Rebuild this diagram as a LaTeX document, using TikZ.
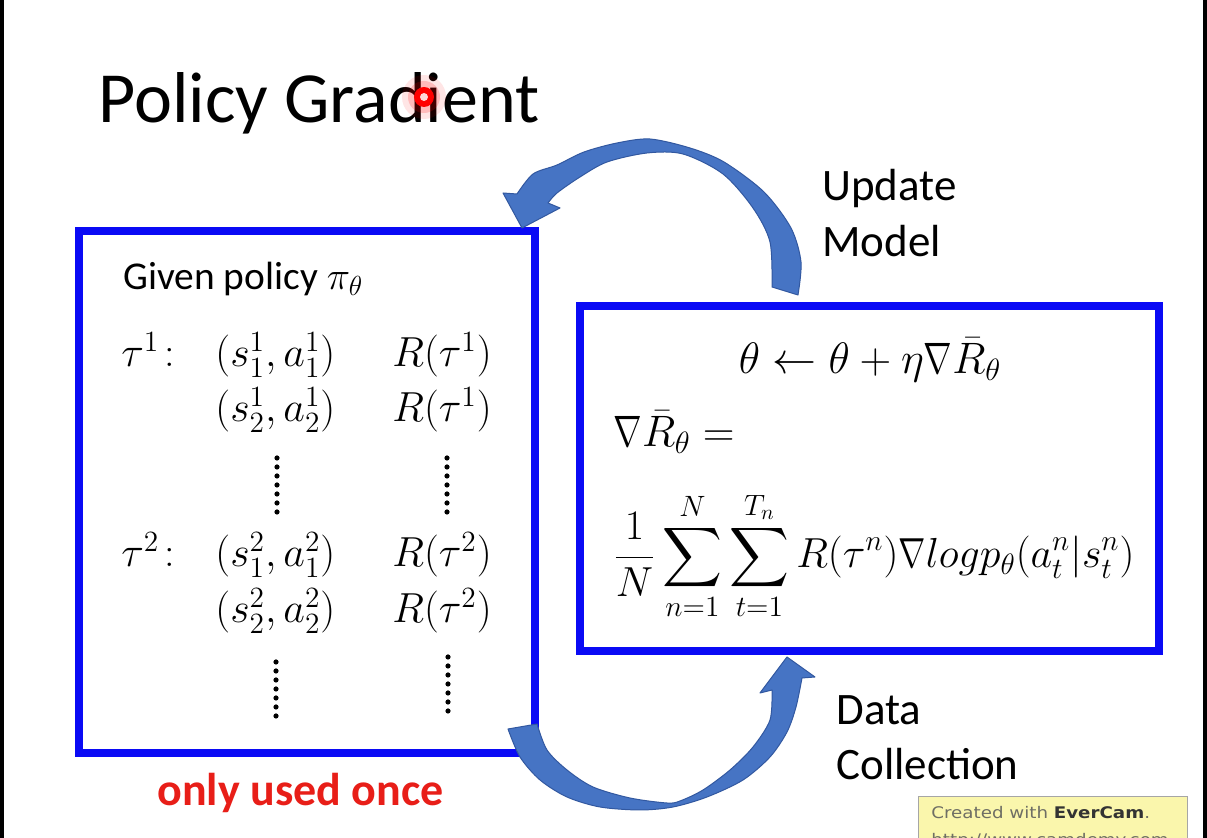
\RequirePackage{fix-cm}
\documentclass[tikz,border=0pt]{standalone}
\usepackage{amsmath}
\usepackage[no-math]{fontspec}
\setmainfont{Carlito}
\newfontfamily\wmfont{DejaVu Sans}[FakeStretch=1.14]
\newcommand{\nablaN}{\mathord{\scalebox{0.78}[1]{$\nabla$}}}
\definecolor{boxblue}{RGB}{10,10,245}
\definecolor{arrowblue}{RGB}{70,116,196}
\definecolor{arrowdark}{RGB}{50,88,160}
\definecolor{onceRed}{RGB}{232,30,24}
\definecolor{wmyellow}{RGB}{250,246,172}
\definecolor{wmgray}{RGB}{110,110,100}
\begin{document}
\begin{tikzpicture}[x=0.5pt,y=-0.5pt,
  bluebox/.style={draw=boxblue, line width=4pt, inner sep=0pt, outer sep=0pt, anchor=north west},
  curvedarrow/.style={fill=arrowblue, draw=arrowdark, line width=0.5pt, line join=round},
  titletext/.style={anchor=base west, inner sep=0pt, font=\fontsize{36}{40}\selectfont},
  sidetext/.style={anchor=base west, inner sep=0pt, font=\fontsize{22.5}{26}\selectfont},
  mathL/.style={anchor=base west, inner sep=0pt, font=\fontsize{21}{25}\selectfont},
  mathR/.style={inner sep=0pt, font=\fontsize{22}{26}\selectfont},
  dotmark/.style={fill=black}
]
\useasboundingbox (0,0) rectangle (1207,838);
\begin{scope}
\clip (0,0) rectangle (1207,838);
\fill[white] (0,0) rectangle (1207,838);
% frame bars of the screenshot
\fill[black] (0,0) rectangle (4,838);
\fill[black] (1203,0) rectangle (1207,838);

% title
\node[titletext] (title) at (98,123) {Policy Gradient};
% cursor highlight
\fill[red, opacity=0.10] (424,97) circle (11pt);
\fill[red, opacity=0.18] (424,97) circle (8pt);
\fill[red] (424,97) circle (5pt);
\fill[white!85!red] (424,97) circle (2pt);

% boxes
\node[bluebox, minimum width=228pt, minimum height=261pt] (policybox) at (79,231) {};
\node[bluebox, minimum width=289.5pt, minimum height=172.5pt] (updatebox) at (580,306) {};

% left box content
\node[anchor=base west, inner sep=0pt, font=\fontsize{19.7}{23}\selectfont] (given) at (123,290) {Given policy $\pi_\theta$};
\node[mathL] (tau1) at (121,367) {$\tau^1\!:$};
\node[mathL] (sa11) at (215,367) {$(s_1^1,a_1^1)$};
\node[mathL] (r11) at (392,367) {$R(\tau^1)$};
\node[mathL] (sa21) at (215,422) {$(s_2^1,a_2^1)$};
\node[mathL] (r21) at (392,422) {$R(\tau^1)$};
\node[mathL] (tau2) at (121,567) {$\tau^2\!:$};
\node[mathL] (sa12) at (215,567) {$(s_1^2,a_1^2)$};
\node[mathL] (r12) at (392,567) {$R(\tau^2)$};
\node[mathL] (sa22) at (215,623) {$(s_2^2,a_2^2)$};
\node[mathL] (r22) at (392,623) {$R(\tau^2)$};
\foreach \k in {0,...,6}{
  \fill[dotmark] (277,458+9*\k) circle (1.3pt);
  \fill[dotmark] (447,458+9*\k) circle (1.3pt);
  \fill[dotmark] (276,662+9*\k) circle (1.3pt);
  \fill[dotmark] (448,657+9*\k) circle (1.3pt);
}

% right box content
\node[mathR, anchor=base] (update) at (870,374) {$\theta \leftarrow \theta + \eta\nablaN\bar{R}_\theta$};
\node[mathR, anchor=base west] (gradlhs) at (613,447) {$\nablaN\bar{R}_\theta =$};
\node[mathR, anchor=base west, font=\fontsize{21}{25}\selectfont] (gradrhs) at (613,568)
  {$\displaystyle \frac{1}{N}\sum_{n=1}^{N}\sum_{t=1}^{T_n} R(\tau^n)\nablaN log p_\theta(a_t^n|s_t^n)$};

% side labels
\node[sidetext] (upd1) at (822,201) {Update};
\node[sidetext] (upd2) at (822,257) {Model};
\node[sidetext] (dat1) at (836,725) {Data};
\node[sidetext] (dat2) at (836,780) {Collection};
\node[anchor=base west, inner sep=0pt, text=onceRed, font=\bfseries\fontsize{23}{27}\selectfont] (once) at (157,806) {only used once};

% curved arrow: update model (right box -> left box)
\path[curvedarrow]
  (772,287) -- (798,295)
  -- plot[smooth] coordinates {(798,295) (801,262) (791,228) (764,192) (724,162) (690,148) (650,139) (617,143) (584,152) (557,165) (533,174) (517,194)}
  -- (503,193) -- (522,228) -- (560,208) -- (548,203)
  -- plot[smooth] coordinates {(548,203) (557,193) (580,177) (607,162) (647,153) (683,154) (723,174) (753,208) (770,242) (772,287)}
  -- cycle;

% curved arrow: data collection (left box -> right box)
\path[curvedarrow]
  (508,729)
  -- plot[smooth] coordinates {(508,729) (520,757) (540,780) (567,797) (600,807) (640,810) (673,807) (707,797) (743,780) (770,757) (787,732) (796,707) (802,678)}
  -- (815,677) -- (787,657) -- (760,693) -- (772,690)
  -- plot[smooth] coordinates {(772,690) (770,720) (753,747) (730,770) (703,790) (680,801) (667,803) (630,798) (593,787) (567,770) (547,750) (537,724)}
  -- cycle;

% watermark
\node[draw=gray!70, fill=wmyellow, line width=0.6pt, anchor=north west, minimum width=134.5pt, minimum height=40pt, inner sep=0pt] (wmbox) at (918,796) {};
\node[anchor=base west, inner sep=0pt, text=wmgray, font=\wmfont\fontsize{8}{9}\selectfont] (wm1) at (931,819) {Created with \textcolor{black!80}{\textbf{EverCam}}.};
\node[anchor=base west, inner sep=0pt, text=wmgray, font=\wmfont\fontsize{8}{9}\selectfont] (wm2) at (931,846) {http://www.camdemy.com};
\end{scope}
\end{tikzpicture}
\end{document}
